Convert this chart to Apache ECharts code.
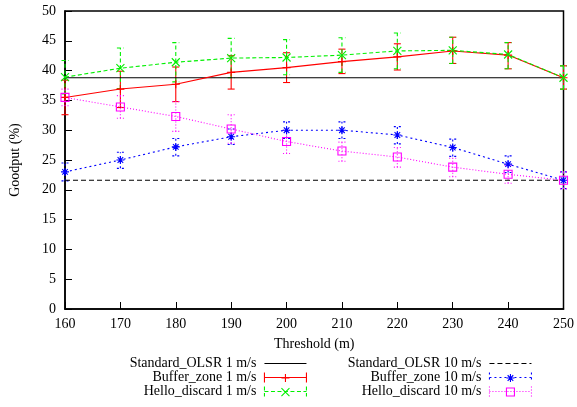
<!DOCTYPE html>
<html>
<head>
<meta charset="utf-8">
<script src="https://cdn.jsdelivr.net/npm/echarts@6/dist/echarts.min.js"></script>
<style>
html,body{margin:0;padding:0;background:#fff;}
#chart{width:577px;height:407px;}
</style>
</head>
<body>
<div id="chart"></div>
<script>
// ---- data ----
var thresholds = [160, 170, 180, 190, 200, 210, 220, 230, 240, 250];
var xTicks = ['160','170','180','190','200','210','220','230','240','250'];

var stdOlsr1 = 38.8;
var stdOlsr10 = 21.6;

var buf1   = [35.5, 36.9, 37.7, 39.7, 40.5, 41.5, 42.3, 43.3, 42.6, 38.8];
var buf1Lo = [32.6, 33.8, 34.8, 36.9, 38.0, 39.5, 40.1, 41.2, 40.3, 36.9];
var buf1Hi = [38.4, 39.9, 40.6, 42.5, 43.0, 43.6, 44.5, 45.6, 44.7, 40.8];

var hello1   = [38.9, 40.4, 41.4, 42.1, 42.2, 42.6, 43.3, 43.4, 42.7, 38.8];
var hello1Lo = [36.1, 37.0, 38.1, 38.8, 39.3, 39.7, 40.3, 41.2, 40.3, 36.9];
var hello1Hi = [41.7, 43.8, 44.7, 45.4, 45.2, 45.5, 46.3, 45.6, 44.7, 40.8];

var buf10   = [23.0, 25.0, 27.2, 28.9, 30.0, 30.0, 29.2, 27.1, 24.3, 21.6];
var buf10Lo = [21.5, 23.6, 25.7, 27.6, 28.6, 28.6, 27.7, 25.6, 22.9, 20.2];
var buf10Hi = [24.5, 26.3, 28.6, 30.2, 31.4, 31.4, 30.6, 28.5, 25.7, 23.0];

var hello10   = [35.5, 33.9, 32.3, 30.2, 28.1, 26.5, 25.5, 23.8, 22.6, 21.6];
var hello10Lo = [34.1, 32.0, 29.8, 27.8, 26.1, 24.8, 23.8, 22.2, 21.1, 20.2];
var hello10Hi = [36.9, 35.8, 34.8, 32.6, 30.0, 28.0, 27.1, 25.3, 24.1, 23.0];

var names = ['Standard_OLSR 1 m/s', 'Buffer_zone 1 m/s', 'Hello_discard 1 m/s',
             'Standard_OLSR 10 m/s', 'Buffer_zone 10 m/s', 'Hello_discard 10 m/s'];

// ---- helpers ----
function pts(vals) { return thresholds.map(function (t, i) { return [t, vals[i]]; }); }
function constPts(v) { return thresholds.map(function (t) { return [t, v]; }); }
function errPts(lo, hi) { return thresholds.map(function (t, i) { return [t, lo[i], hi[i]]; }); }

var FONT = 'Liberation Serif';
var RED = '#ff0000', GREEN = '#00f000', BLUE = '#0000ff', MAG = '#ff00ff';
var CLEAR = 'rgba(0,0,0,0)';

var SYM_PLUS = 'path://M0,5L10,5M5,0L5,10';
var SYM_X = 'path://M0,0L10,10M0,10L10,0';
var SYM_STAR = 'path://M0,5L10,5M5,0L5,10M1.5,1.5L8.5,8.5M1.5,8.5L8.5,1.5';
var SYM_SQ = 'path://M0,0L10,0L10,10L0,10Z';
var ICON_ERRLINE = 'path://M0,0L0,10M0,5L42,5M42,0L42,10';

var DASH_G = [4, 2.5];
var DASH_B = [2, 3];
var DASH_M = [1, 2];
var DASH_K = [5, 3];

function lineSeries(name, data, color, dash, symbol) {
  return {
    name: name, type: 'line', data: data,
    symbol: symbol || 'none', symbolSize: 8, showSymbol: !!symbol,
    animation: false, silent: true,
    lineStyle: { color: color, width: 1.1, type: dash },
    itemStyle: { color: CLEAR, borderColor: symbol ? color : CLEAR, borderWidth: 1.1 }
  };
}

function errSeries(id, data, color, dash) {
  return {
    name: id, type: 'custom', data: data, animation: false, silent: true,
    encode: { x: 0, y: [1, 2] },
    renderItem: function (params, api) {
      var x = api.value(0);
      var pLo = api.coord([x, api.value(1)]);
      var pHi = api.coord([x, api.value(2)]);
      var c = 3.5;
      var st = { stroke: color, lineWidth: 1.1, lineDash: dash, fill: null };
      return {
        type: 'group',
        children: [
          { type: 'line', shape: { x1: pLo[0], y1: pLo[1], x2: pHi[0], y2: pHi[1] }, style: st },
          { type: 'line', shape: { x1: pLo[0] - c, y1: pLo[1], x2: pLo[0] + c, y2: pLo[1] }, style: st },
          { type: 'line', shape: { x1: pHi[0] - c, y1: pHi[1], x2: pHi[0] + c, y2: pHi[1] }, style: st }
        ]
      };
    }
  };
}

var series = [
  lineSeries(names[0], constPts(stdOlsr1), '#000', 'solid'),
  errSeries('err_buf1', errPts(buf1Lo, buf1Hi), RED, null),
  lineSeries(names[1], pts(buf1), RED, 'solid', SYM_PLUS),
  errSeries('err_hello1', errPts(hello1Lo, hello1Hi), GREEN, DASH_G),
  lineSeries(names[2], pts(hello1), GREEN, DASH_G, SYM_X),
  lineSeries(names[3], constPts(stdOlsr10), '#000', DASH_K),
  errSeries('err_buf10', errPts(buf10Lo, buf10Hi), BLUE, DASH_B),
  lineSeries(names[4], pts(buf10), BLUE, DASH_B, SYM_STAR),
  errSeries('err_hello10', errPts(hello10Lo, hello10Hi), MAG, DASH_M),
  lineSeries(names[5], pts(hello10), MAG, DASH_M, SYM_SQ)
];

// legend: one component per entry, text right-aligned, sample on the right
var legColors = ['#000', RED, GREEN, '#000', BLUE, MAG];
var legDash = ['solid', 'solid', DASH_G, DASH_K, DASH_B, DASH_M];
var legSym = [null, SYM_PLUS, SYM_X, null, SYM_STAR, SYM_SQ];
var rowsY = [363.5, 377.5, 391.5];
var colRight = [270, 45];
var textStyle = { fontFamily: FONT, fontSize: 14, color: '#000', lineHeight: 14, padding: [0, 3, 0, 0] };
var legends = [];
names.forEach(function (n, i) {
  var col = i < 3 ? 0 : 1;
  var row = i % 3;
  var base = {
    orient: 'vertical', align: 'right',
    right: colRight[col], top: rowsY[row] - 7,
    padding: 0, itemWidth: 42, itemHeight: 10, itemGap: 0,
    selectedMode: false, symbolKeepAspect: false,
    textStyle: textStyle
  };
  if (!legSym[i]) {
    base.data = [n];
    base.lineStyle = { width: 1.1 };
    base.itemStyle = { color: CLEAR, borderColor: CLEAR };
    legends.push(base);
  } else {
    // sample line with error caps
    base.data = [{ name: n, icon: ICON_ERRLINE }];
    base.itemStyle = { color: CLEAR, borderColor: legColors[i], borderWidth: 1.1, borderType: legDash[i] };
    legends.push(base);
    // marker drawn on top in the middle of the sample
    legends.push({
      orient: 'vertical', align: 'right',
      right: colRight[col] + 17, top: rowsY[row] - 4,
      padding: 0, itemWidth: 8, itemHeight: 8, itemGap: 0,
      selectedMode: false, symbolKeepAspect: false,
      formatter: function () { return ''; },
      data: [{ name: n, icon: legSym[i] }],
      itemStyle: { color: CLEAR, borderColor: legColors[i], borderWidth: 1.1, borderType: 'solid' },
      textStyle: { fontSize: 1, padding: 0 }
    });
  }
});

var chart = echarts.init(document.getElementById('chart'), null, { renderer: 'canvas' });
chart.setOption({
  animation: false,
  backgroundColor: '#fff',
  grid: { left: 64, right: 11, top: 11, bottom: 98, show: true, borderColor: '#000', borderWidth: 1.5, backgroundColor: 'transparent' },
  legend: legends,
  xAxis: {
    type: 'value', min: 160, max: 250, interval: 10,
    name: 'Threshold (m)', nameLocation: 'middle', nameGap: 28,
    nameTextStyle: { fontFamily: FONT, fontSize: 14, color: '#000' },
    axisLine: { show: true, lineStyle: { color: '#000', width: 1.5 } },
    axisTick: { show: true, inside: true, length: 7, lineStyle: { color: '#000', width: 1 } },
    axisLabel: {
      margin: 8, fontFamily: FONT, fontSize: 14, color: '#000',
      formatter: function (v) { var i = thresholds.indexOf(v); return i >= 0 ? xTicks[i] : ''; }
    },
    splitLine: { show: false }
  },
  yAxis: {
    type: 'value', min: 0, max: 50, interval: 5,
    name: 'Goodput (%)', nameLocation: 'middle', nameGap: 43, nameRotate: 90,
    nameTextStyle: { fontFamily: FONT, fontSize: 14, color: '#000' },
    axisLine: { show: true, lineStyle: { color: '#000', width: 1.5 } },
    axisTick: { show: true, inside: true, length: 7, lineStyle: { color: '#000', width: 1 } },
    axisLabel: { margin: 9, fontFamily: FONT, fontSize: 14, color: '#000' },
    splitLine: { show: false }
  },
  series: series
});
</script>
</body>
</html>
